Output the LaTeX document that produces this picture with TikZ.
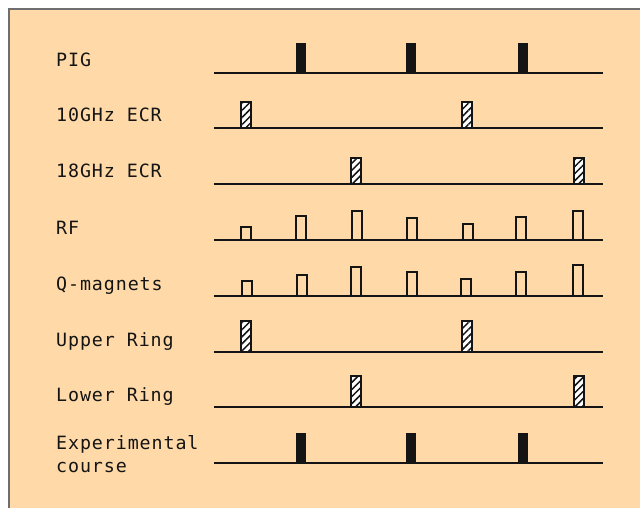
\documentclass[tikz,border=0pt]{standalone}
\usepackage{fontspec}
\newfontfamily\labelfont[LetterSpace=5]{DejaVu Sans Mono}
\usepackage{xcolor}
\usepackage{tikz}
\usetikzlibrary{patterns.meta}
\definecolor{peach}{HTML}{FFDAA8}
\definecolor{framegray}{HTML}{6E6E6E}
\definecolor{ink}{HTML}{141414}

\begin{document}
\begin{tikzpicture}[x=1pt, y=-1pt,
  lbl/.style={anchor=base west, inner sep=0pt, align=left,
              font=\labelfont\fontsize{18.3}{23}\selectfont, text=ink},
  axis/.style={draw=ink, line width=2pt},
  solidpulse/.style={fill=ink},
  hatchpulse/.style={draw=ink, line width=1.3pt, fill=white,
                     postaction={pattern={Lines[angle=45, distance=5pt, line width=1.5pt]}, pattern color=ink}},
  openpulse/.style={draw=ink, line width=1.6pt},
]
  \useasboundingbox (0,0) rectangle (640,508);
  \fill[white] (0,0) rectangle (640,508);
  \fill[peach] (9,9) rectangle (640,508);
  \draw[framegray, line width=2pt] (640,9) -- (9,9) -- (9,508);

  % Labels
  \node[lbl] (pig) at (56,67) {PIG};
  \node[lbl] (ecr10) at (56,122) {10GHz ECR};
  \node[lbl] (ecr18) at (56,178) {18GHz ECR};
  \node[lbl] (rf) at (56,234) {RF};
  \node[lbl] (qmag) at (56,290) {Q-magnets};
  \node[lbl] (upper) at (56,346) {Upper Ring};
  \node[lbl] (lower) at (56,401) {Lower Ring};
  \node[lbl] (expc) at (56,472) {Experimental\\course};

  % PIG
  \fill[solidpulse] (296,43) rectangle (306,73);
  \fill[solidpulse] (406,43) rectangle (416,73);
  \fill[solidpulse] (518,43) rectangle (528,73);
  \draw[axis] (214,73) -- (603,73);

  % 10GHz ECR
  \draw[hatchpulse] (241,102) rectangle (251,128);
  \draw[hatchpulse] (462,102) rectangle (472,128);
  \draw[axis] (214,128) -- (603,128);

  % 18GHz ECR
  \draw[hatchpulse] (351,158) rectangle (361,184);
  \draw[hatchpulse] (574,158) rectangle (584,184);
  \draw[axis] (214,184) -- (603,184);

  % RF
  \draw[openpulse] (241,240) -- (241,227) -- (251,227) -- (251,240);
  \draw[openpulse] (296,240) -- (296,216) -- (306,216) -- (306,240);
  \draw[openpulse] (352,240) -- (352,211) -- (362,211) -- (362,240);
  \draw[openpulse] (407,240) -- (407,218) -- (417,218) -- (417,240);
  \draw[openpulse] (463,240) -- (463,224) -- (473,224) -- (473,240);
  \draw[openpulse] (516,240) -- (516,217) -- (526,217) -- (526,240);
  \draw[openpulse] (573,240) -- (573,211) -- (583,211) -- (583,240);
  \draw[axis] (214,240) -- (603,240);

  % Q-magnets
  \draw[openpulse] (242,296) -- (242,281) -- (252,281) -- (252,296);
  \draw[openpulse] (297,296) -- (297,275) -- (307,275) -- (307,296);
  \draw[openpulse] (351,296) -- (351,267) -- (361,267) -- (361,296);
  \draw[openpulse] (407,296) -- (407,272) -- (417,272) -- (417,296);
  \draw[openpulse] (461,296) -- (461,279) -- (471,279) -- (471,296);
  \draw[openpulse] (516,296) -- (516,272) -- (526,272) -- (526,296);
  \draw[openpulse] (573,296) -- (573,265) -- (583,265) -- (583,296);
  \draw[axis] (214,296) -- (603,296);

  % Upper Ring
  \draw[hatchpulse] (241,321) rectangle (251,352);
  \draw[hatchpulse] (462,321) rectangle (472,352);
  \draw[axis] (214,352) -- (603,352);

  % Lower Ring
  \draw[hatchpulse] (351,376) rectangle (361,407);
  \draw[hatchpulse] (574,376) rectangle (584,407);
  \draw[axis] (214,407) -- (603,407);

  % Experimental course
  \fill[solidpulse] (296,433) rectangle (306,463);
  \fill[solidpulse] (406,433) rectangle (416,463);
  \fill[solidpulse] (518,433) rectangle (528,463);
  \draw[axis] (214,463) -- (603,463);
\end{tikzpicture}
\end{document}
